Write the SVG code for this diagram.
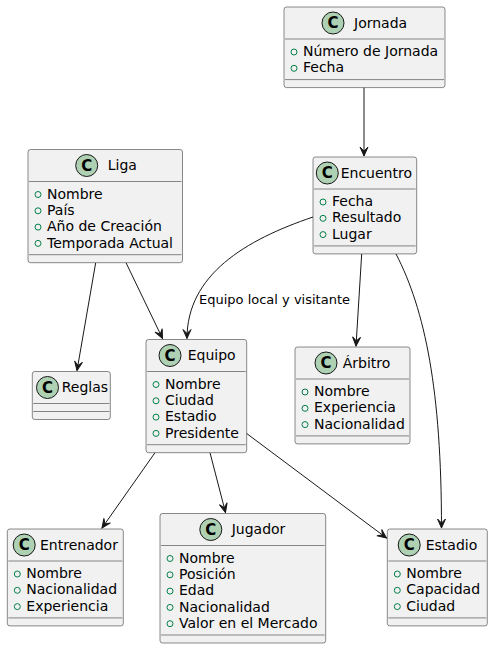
<svg xmlns="http://www.w3.org/2000/svg" width="493" height="648" viewBox="0 0 493 648">
<style>
.box{fill:#F1F1F1;stroke:#181818;stroke-width:0.5}
.sep{stroke:#181818;stroke-width:0.5}
.spot{fill:#ADD1B2;stroke:#181818;stroke-width:1}
.spotc{font-family:"DejaVu Sans",sans-serif;font-size:15px;font-weight:bold;fill:#000;text-anchor:middle}
.name{font-family:"DejaVu Sans",sans-serif;font-size:14px;fill:#000}
.attr{font-family:"DejaVu Sans",sans-serif;font-size:14px;fill:#000}
.vis{fill:none;stroke:#038048;stroke-width:1}
.edge{fill:none;stroke:#181818;stroke-width:1}
.lbl{font-family:"DejaVu Sans",sans-serif;font-size:13px;fill:#000}
</style>
<defs>
<marker id="arr" viewBox="-1 -5 11 10" refX="9" refY="0" markerWidth="11" markerHeight="10" markerUnits="userSpaceOnUse" orient="auto">
<path d="M0,-4 L9,0 L0,4 L4,0 Z" fill="#181818" stroke="#181818" stroke-width="1"/>
</marker>
</defs>

<g id="connectors">
<path class="edge" d="M364,87.6 L364,156" marker-end="url(#arr)"/>
<path class="edge" d="M95.7,262.7 L77,370.5" marker-end="url(#arr)"/>
<path class="edge" d="M126,262.7 L162.5,338.5" marker-end="url(#arr)"/>
<path class="edge" d="M313,217 C245,240 187,275 187,338.5" marker-end="url(#arr)"/>
<text class="lbl" x="199" y="304">Equipo local y visitante</text>
<path class="edge" d="M361.7,253.9 L356,346" marker-end="url(#arr)"/>
<path class="edge" d="M396,253.9 C425,310 441.5,390 441.5,528" marker-end="url(#arr)"/>
<path class="edge" d="M155,452.7 L102,528" marker-end="url(#arr)"/>
<path class="edge" d="M210,452.7 L225.5,512.5" marker-end="url(#arr)"/>
<path class="edge" d="M246,433 L386.5,538" marker-end="url(#arr)"/>
</g>

<g id="Jornada">
<rect class="box" x="284" y="7" width="161" height="80.6" rx="2.5"/>
<circle class="spot" cx="333" cy="23" r="11"/><text class="spotc" x="333" y="28.3">C</text>
<text class="name" x="354" y="27.85">Jornada</text>
<line class="sep" x1="285" y1="39" x2="444" y2="39"/>
<circle class="vis" cx="294" cy="52" r="3"/><text class="attr" x="303" y="56.1">Número de Jornada</text>
<circle class="vis" cx="294" cy="68.3" r="3"/><text class="attr" x="303" y="72.4">Fecha</text>
<line class="sep" x1="285" y1="79.6" x2="444" y2="79.6"/>
</g>

<g id="Liga">
<rect class="box" x="28" y="149.5" width="154.5" height="113.2" rx="2.5"/>
<circle class="spot" cx="86.7" cy="165.5" r="11"/><text class="spotc" x="86.7" y="170.8">C</text>
<text class="name" x="107.7" y="170.35">Liga</text>
<line class="sep" x1="29" y1="181.5" x2="181.5" y2="181.5"/>
<circle class="vis" cx="38" cy="194.5" r="3"/><text class="attr" x="47" y="198.6">Nombre</text>
<circle class="vis" cx="38" cy="210.8" r="3"/><text class="attr" x="47" y="214.9">País</text>
<circle class="vis" cx="38" cy="227.1" r="3"/><text class="attr" x="47" y="231.2">Año de Creación</text>
<circle class="vis" cx="38" cy="243.4" r="3"/><text class="attr" x="47" y="247.5">Temporada Actual</text>
<line class="sep" x1="29" y1="254.7" x2="181.5" y2="254.7"/>
</g>

<g id="Encuentro">
<rect class="box" x="313" y="157" width="103.7" height="96.9" rx="2.5"/>
<circle class="spot" cx="327.3" cy="173" r="11"/><text class="spotc" x="327.3" y="178.3">C</text>
<text class="name" x="340.7" y="177.85">Encuentro</text>
<line class="sep" x1="314" y1="189" x2="415.7" y2="189"/>
<circle class="vis" cx="323" cy="202" r="3"/><text class="attr" x="332" y="206.1">Fecha</text>
<circle class="vis" cx="323" cy="218.3" r="3"/><text class="attr" x="332" y="222.4">Resultado</text>
<circle class="vis" cx="323" cy="234.6" r="3"/><text class="attr" x="332" y="238.7">Lugar</text>
<line class="sep" x1="314" y1="245.9" x2="415.7" y2="245.9"/>
</g>

<g id="Equipo">
<rect class="box" x="146" y="339.5" width="100.7" height="113.2" rx="2.5"/>
<circle class="spot" cx="170" cy="355.5" r="11"/><text class="spotc" x="170" y="360.8">C</text>
<text class="name" x="187.7" y="360.35">Equipo</text>
<line class="sep" x1="147" y1="371.5" x2="245.7" y2="371.5"/>
<circle class="vis" cx="156" cy="384.5" r="3"/><text class="attr" x="165" y="388.6">Nombre</text>
<circle class="vis" cx="156" cy="400.8" r="3"/><text class="attr" x="165" y="404.9">Ciudad</text>
<circle class="vis" cx="156" cy="417.1" r="3"/><text class="attr" x="165" y="421.2">Estadio</text>
<circle class="vis" cx="156" cy="433.4" r="3"/><text class="attr" x="165" y="437.5">Presidente</text>
<line class="sep" x1="147" y1="444.7" x2="245.7" y2="444.7"/>
</g>

<g id="Reglas">
<rect class="box" x="32.3" y="371.5" width="78" height="48" rx="2.5"/>
<circle class="spot" cx="47.5" cy="387.5" r="11"/><text class="spotc" x="47.5" y="392.8">C</text>
<text class="name" x="61.7" y="392.35">Reglas</text>
<line class="sep" x1="33.3" y1="403.5" x2="109.3" y2="403.5"/>
<line class="sep" x1="33.3" y1="411.5" x2="109.3" y2="411.5"/>
</g>

<g id="Arbitro">
<rect class="box" x="295" y="347" width="115" height="96.9" rx="2.5"/>
<circle class="spot" cx="326" cy="363" r="11"/><text class="spotc" x="326" y="368.3">C</text>
<text class="name" x="342.7" y="367.85">Árbitro</text>
<line class="sep" x1="296" y1="379" x2="409" y2="379"/>
<circle class="vis" cx="305" cy="392" r="3"/><text class="attr" x="314" y="396.1">Nombre</text>
<circle class="vis" cx="305" cy="408.3" r="3"/><text class="attr" x="314" y="412.4">Experiencia</text>
<circle class="vis" cx="305" cy="424.6" r="3"/><text class="attr" x="314" y="428.7">Nacionalidad</text>
<line class="sep" x1="296" y1="435.9" x2="409" y2="435.9"/>
</g>

<g id="Estadio">
<rect class="box" x="387.3" y="529" width="100" height="96.9" rx="2.5"/>
<circle class="spot" cx="409.2" cy="545" r="11"/><text class="spotc" x="409.2" y="550.3">C</text>
<text class="name" x="425.7" y="549.85">Estadio</text>
<line class="sep" x1="388.3" y1="561" x2="486.3" y2="561"/>
<circle class="vis" cx="397.3" cy="574" r="3"/><text class="attr" x="406.3" y="578.1">Nombre</text>
<circle class="vis" cx="397.3" cy="590.3" r="3"/><text class="attr" x="406.3" y="594.4">Capacidad</text>
<circle class="vis" cx="397.3" cy="606.6" r="3"/><text class="attr" x="406.3" y="610.7">Ciudad</text>
<line class="sep" x1="388.3" y1="617.9" x2="486.3" y2="617.9"/>
</g>

<g id="Entrenador">
<rect class="box" x="7.3" y="529" width="116" height="96.9" rx="2.5"/>
<circle class="spot" cx="24.2" cy="545" r="11"/><text class="spotc" x="24.2" y="550.3">C</text>
<text class="name" x="40" y="549.85">Entrenador</text>
<line class="sep" x1="8.3" y1="561" x2="122.3" y2="561"/>
<circle class="vis" cx="17.3" cy="574" r="3"/><text class="attr" x="26.3" y="578.1">Nombre</text>
<circle class="vis" cx="17.3" cy="590.3" r="3"/><text class="attr" x="26.3" y="594.4">Nacionalidad</text>
<circle class="vis" cx="17.3" cy="606.6" r="3"/><text class="attr" x="26.3" y="610.7">Experiencia</text>
<line class="sep" x1="8.3" y1="617.9" x2="122.3" y2="617.9"/>
</g>

<g id="Jugador">
<rect class="box" x="160" y="513.5" width="165.7" height="129.5" rx="2.5"/>
<circle class="spot" cx="210.8" cy="529.5" r="11"/><text class="spotc" x="210.8" y="534.8">C</text>
<text class="name" x="231.7" y="534.35">Jugador</text>
<line class="sep" x1="161" y1="545.5" x2="324.7" y2="545.5"/>
<circle class="vis" cx="170" cy="558.5" r="3"/><text class="attr" x="179" y="562.6">Nombre</text>
<circle class="vis" cx="170" cy="574.8" r="3"/><text class="attr" x="179" y="578.9">Posición</text>
<circle class="vis" cx="170" cy="591.1" r="3"/><text class="attr" x="179" y="595.2">Edad</text>
<circle class="vis" cx="170" cy="607.4" r="3"/><text class="attr" x="179" y="611.5">Nacionalidad</text>
<circle class="vis" cx="170" cy="623.7" r="3"/><text class="attr" x="179" y="627.8">Valor en el Mercado</text>
<line class="sep" x1="161" y1="635" x2="324.7" y2="635"/>
</g>
</svg>
